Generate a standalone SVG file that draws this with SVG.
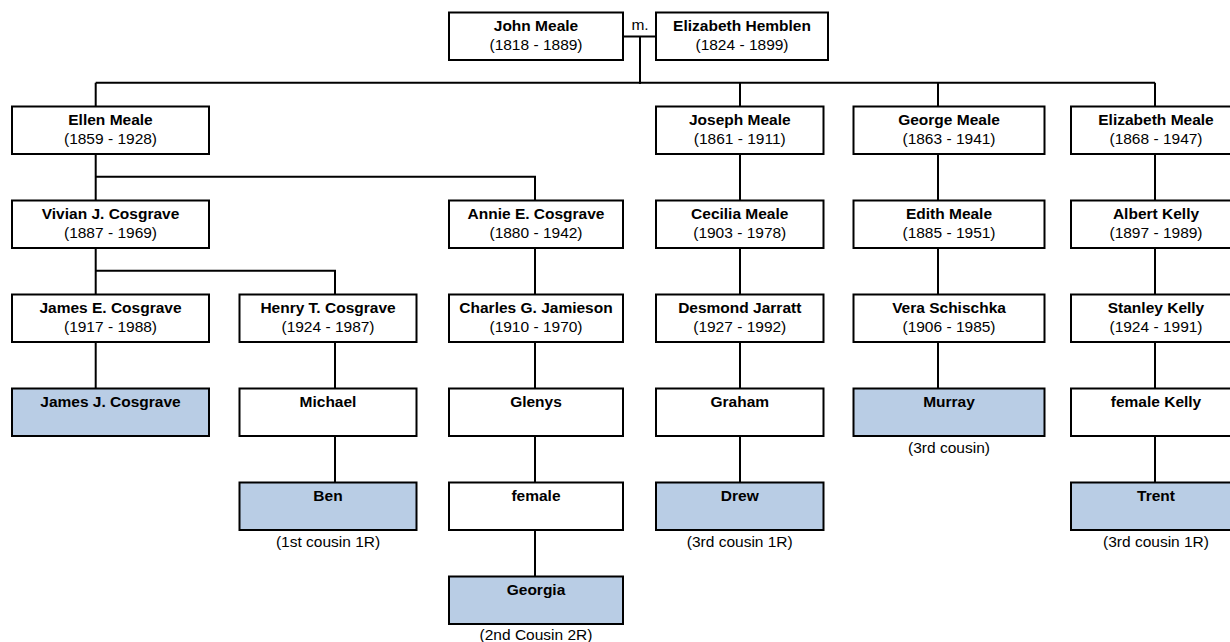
<svg xmlns="http://www.w3.org/2000/svg" width="1230" height="642" viewBox="0 0 1230 642">
<style>
.b{fill:#ffffff;stroke:#000000;stroke-width:2}
.h{fill:#b9cde5;stroke:#000000;stroke-width:2}
.n{font-family:"Liberation Sans",Arial,sans-serif;font-size:15.5px;font-weight:bold;text-anchor:middle;fill:#000}
.d{font-family:"Liberation Sans",Arial,sans-serif;font-size:15.5px;text-anchor:middle;fill:#000}
.c{fill:none;stroke:#000000;stroke-width:2}
</style>
<rect x="0" y="0" width="1230" height="642" fill="#ffffff"/>
<g id="connectors" class="c">
<path d="M623 36.5H656M640 36.5V84"/>
<path d="M95.7 82.7H1155M95.7 82.7V106.5M740 82.7V106.5M938 82.7V106.5M1155 82.7V106.5"/>
<path d="M95.7 154V200.5M95.7 176.7H535V200.5"/>
<path d="M95.7 248V294.5M95.7 270.7H335V294.5"/>
<path d="M95.7 342V388.5"/>
<path d="M335 342V388.5M335 436V482.5"/>
<path d="M535 248V294.5M535 342V388.5M535 436V482.5M535 530V576.5"/>
<path d="M740 154V200.5M740 248V294.5M740 342V388.5M740 436V482.5"/>
<path d="M938 154V200.5M938 248V294.5M938 342V388.5"/>
<path d="M1155 154V200.5M1155 248V294.5M1155 342V388.5M1155 436V482.5"/>
</g>
<text class="d" x="640" y="29.5">m.</text>
<g id="john"><rect class="b" x="449" y="12.5" width="174" height="47.5"/><text class="n" x="536" y="30.9">John Meale</text><text class="d" x="536" y="49.5">(1818 - 1889)</text></g>
<g id="elizabeth-hemblen"><rect class="b" x="656" y="12.5" width="172" height="47.5"/><text class="n" x="742" y="30.9">Elizabeth Hemblen</text><text class="d" x="742" y="49.5">(1824 - 1899)</text></g>
<g id="ellen"><rect class="b" x="12" y="106.5" width="197" height="47.5"/><text class="n" x="110.5" y="124.9">Ellen Meale</text><text class="d" x="110.5" y="143.5">(1859 - 1928)</text></g>
<g id="joseph"><rect class="b" x="656" y="106.5" width="167.5" height="47.5"/><text class="n" x="739.75" y="124.9">Joseph Meale</text><text class="d" x="739.75" y="143.5">(1861 - 1911)</text></g>
<g id="george"><rect class="b" x="853.5" y="106.5" width="191" height="47.5"/><text class="n" x="949" y="124.9">George Meale</text><text class="d" x="949" y="143.5">(1863 - 1941)</text></g>
<g id="elizabeth-meale"><rect class="b" x="1071" y="106.5" width="170" height="47.5"/><text class="n" x="1156" y="124.9">Elizabeth Meale</text><text class="d" x="1156" y="143.5">(1868 - 1947)</text></g>
<g id="vivian"><rect class="b" x="12" y="200.5" width="197" height="47.5"/><text class="n" x="110.5" y="218.9">Vivian J. Cosgrave</text><text class="d" x="110.5" y="237.5">(1887 - 1969)</text></g>
<g id="annie"><rect class="b" x="449" y="200.5" width="174" height="47.5"/><text class="n" x="536" y="218.9">Annie E. Cosgrave</text><text class="d" x="536" y="237.5">(1880 - 1942)</text></g>
<g id="cecilia"><rect class="b" x="656" y="200.5" width="167.5" height="47.5"/><text class="n" x="739.75" y="218.9">Cecilia Meale</text><text class="d" x="739.75" y="237.5">(1903 - 1978)</text></g>
<g id="edith"><rect class="b" x="853.5" y="200.5" width="191" height="47.5"/><text class="n" x="949" y="218.9">Edith Meale</text><text class="d" x="949" y="237.5">(1885 - 1951)</text></g>
<g id="albert"><rect class="b" x="1071" y="200.5" width="170" height="47.5"/><text class="n" x="1156" y="218.9">Albert Kelly</text><text class="d" x="1156" y="237.5">(1897 - 1989)</text></g>
<g id="james-e"><rect class="b" x="12" y="294.5" width="197" height="47.5"/><text class="n" x="110.5" y="312.9">James E. Cosgrave</text><text class="d" x="110.5" y="331.5">(1917 - 1988)</text></g>
<g id="henry"><rect class="b" x="239.5" y="294.5" width="177" height="47.5"/><text class="n" x="328" y="312.9">Henry T. Cosgrave</text><text class="d" x="328" y="331.5">(1924 - 1987)</text></g>
<g id="charles"><rect class="b" x="449" y="294.5" width="174" height="47.5"/><text class="n" x="536" y="312.9">Charles G. Jamieson</text><text class="d" x="536" y="331.5">(1910 - 1970)</text></g>
<g id="desmond"><rect class="b" x="656" y="294.5" width="167.5" height="47.5"/><text class="n" x="739.75" y="312.9">Desmond Jarratt</text><text class="d" x="739.75" y="331.5">(1927 - 1992)</text></g>
<g id="vera"><rect class="b" x="853.5" y="294.5" width="191" height="47.5"/><text class="n" x="949" y="312.9">Vera Schischka</text><text class="d" x="949" y="331.5">(1906 - 1985)</text></g>
<g id="stanley"><rect class="b" x="1071" y="294.5" width="170" height="47.5"/><text class="n" x="1156" y="312.9">Stanley Kelly</text><text class="d" x="1156" y="331.5">(1924 - 1991)</text></g>
<g id="james-j"><rect class="h" x="12" y="388.5" width="197" height="47.5"/><text class="n" x="110.5" y="406.9">James J. Cosgrave</text></g>
<g id="michael"><rect class="b" x="239.5" y="388.5" width="177" height="47.5"/><text class="n" x="328" y="406.9">Michael</text></g>
<g id="glenys"><rect class="b" x="449" y="388.5" width="174" height="47.5"/><text class="n" x="536" y="406.9">Glenys</text></g>
<g id="graham"><rect class="b" x="656" y="388.5" width="167.5" height="47.5"/><text class="n" x="739.75" y="406.9">Graham</text></g>
<g id="murray"><rect class="h" x="853.5" y="388.5" width="191" height="47.5"/><text class="n" x="949" y="406.9">Murray</text><text class="d" x="949" y="452.5">(3rd cousin)</text></g>
<g id="female-kelly"><rect class="b" x="1071" y="388.5" width="170" height="47.5"/><text class="n" x="1156" y="406.9">female Kelly</text></g>
<g id="ben"><rect class="h" x="239.5" y="482.5" width="177" height="47.5"/><text class="n" x="328" y="500.9">Ben</text><text class="d" x="328" y="546.7">(1st cousin 1R)</text></g>
<g id="female"><rect class="b" x="449" y="482.5" width="174" height="47.5"/><text class="n" x="536" y="500.9">female</text></g>
<g id="drew"><rect class="h" x="656" y="482.5" width="167.5" height="47.5"/><text class="n" x="739.75" y="500.9">Drew</text><text class="d" x="739.75" y="546.7">(3rd cousin 1R)</text></g>
<g id="trent"><rect class="h" x="1071" y="482.5" width="170" height="47.5"/><text class="n" x="1156" y="500.9">Trent</text><text class="d" x="1156" y="546.7">(3rd cousin 1R)</text></g>
<g id="georgia"><rect class="h" x="449" y="576.5" width="174" height="47.5"/><text class="n" x="536" y="594.9">Georgia</text><text class="d" x="536" y="640.3">(2nd Cousin 2R)</text></g>
</svg>
